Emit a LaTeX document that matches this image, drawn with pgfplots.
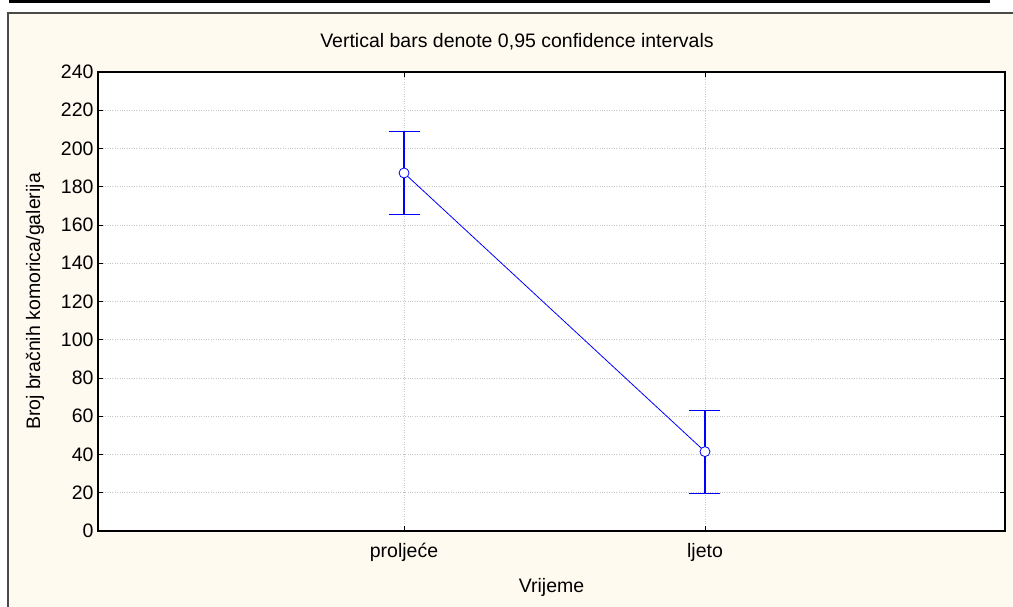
\documentclass[border=0pt]{standalone}
\usepackage{pgfplots}
\pgfplotsset{compat=1.18}
\usepackage{fontspec}
\setmainfont{Liberation Sans}
\definecolor{panelbg}{HTML}{FFFAEF}
\definecolor{framegray}{HTML}{4A4A4A}
\definecolor{gridgray}{HTML}{C8C8C8}

\begin{document}
\begin{tikzpicture}[font=\fontsize{19.5}{23}\selectfont]
\useasboundingbox (0,0) rectangle (1013pt,-607pt);
\fill[white] (0,0) rectangle (1013pt,-607pt);
% bit of the table above the chart
\fill[black] (9pt,0) rectangle (990pt,-3.5pt);
% panel
\fill[panelbg] (8pt,-13pt) rectangle (1020pt,-620pt);
\draw[framegray, line width=1.8pt] (8pt,-620pt) -- (8pt,-13pt) -- (1020pt,-13pt);
\node at (517pt,-42pt) {Vertical bars denote 0,95 confidence intervals};

\begin{axis}[
    at={(98pt,-531pt)}, anchor=south west,
    scale only axis,
    width=907pt, height=459pt,
    xmin=-0.017, xmax=2.997,
    ymin=0, ymax=240,
    xtick={1,2},
    xticklabels={proljeće, ljeto},
    ytick={0,20,...,240},
    tick align=inside,
    major tick length=5pt,
    tick style={black, line width=0.6pt},
    axis line style={black, line width=1.3pt},
    axis background/.style={fill=white},
    xmajorgrids=true, ymajorgrids=true,
    grid style={gridgray, dotted, line width=0.8pt},
    /pgf/number format/assume math mode=true,
    xticklabel style={yshift=-9pt},
    yticklabel style={xshift=-1pt},
    xlabel={Vrijeme},
    ylabel={Broj bračnih komorica/galerija},
    xlabel style={at={(axis description cs:0.5,-0.124)}, anchor=center},
    ylabel style={at={(axis description cs:-0.0695,0.5)}, anchor=center},
    clip=false,
]
\addplot[blue, line width=0.8pt,
    mark=*, mark size=5pt,
    mark options={fill=white, draw=blue, line width=0.8pt},
    error bars/.cd, y dir=both, y explicit,
    error bar style={draw=blue, line width=1.1pt},
    error mark options={rotate=90, mark size=15.5pt, draw=blue, line width=1.1pt}]
    coordinates {
        (1,187.2) +- (0,21.7)
        (2,41.5) +- (0,21.7)
    };
\end{axis}
\end{tikzpicture}
\end{document}
